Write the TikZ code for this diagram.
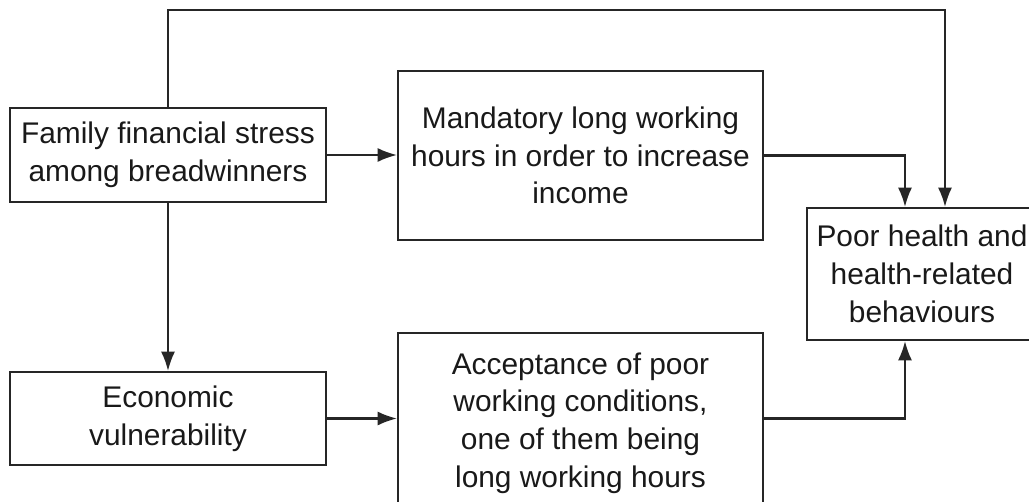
\documentclass[tikz,border=0pt]{standalone}
\usepackage{fontspec}
\setmainfont{Liberation Sans}
\usetikzlibrary{arrows.meta, positioning}

\begin{document}
\begin{tikzpicture}[x=0.02cm, y=-0.02cm, line width=1.2pt,
    box/.style={draw=black!85, text=black!90, align=center, inner sep=0pt,
      font=\fontsize{17}{21.5}\selectfont},
    link/.style={draw=black!85, -{Latex[length=11pt,width=8pt]}}]
      \useasboundingbox (0,0) rectangle (1029,501);
      \clip (0,0) rectangle (1029,501);

      % causes on the left
      \node[box, minimum width=6.32cm, minimum height=1.88cm] (fam) at (168,155)
        {Family financial stress\\among breadwinners};
      \node[box, minimum width=6.32cm, minimum height=1.86cm] (econ) at (168,418.5)
        {Economic\\vulnerability};

      % pathways in the middle
      \node[box, minimum width=7.3cm, minimum height=3.38cm] (mand) at (580.5,155.5)
        {Mandatory long working\\hours in order to increase\\income};
      \node[box, minimum width=7.3cm, minimum height=3.6cm] (acc) at (580.5,423)
        {Acceptance of poor\\working conditions,\\one of them being\\long working hours};

      % outcome, cut by the right edge
      \node[box, minimum width=4.6cm, minimum height=2.64cm] (poor) at (922,274)
        {Poor health and\\health-related\\behaviours};

      % connectors
      \coordinate (ceil) at (945,10);
      \coordinate (drop) at (905,0);
      \draw[link] (fam.north) |- (ceil) -- (ceil |- poor.north);
      \draw[link] (fam.east) -- (fam.east -| mand.west);
      \draw[link] (mand.east) -| (drop |- poor.north);
      \draw[link] (fam.south) -- (econ.north);
      \draw[link] (econ.east) -- (econ.east -| acc.west);
      \draw[link] (acc.east |- econ.east) -| (drop |- poor.south);

    \end{tikzpicture}
\end{document}
